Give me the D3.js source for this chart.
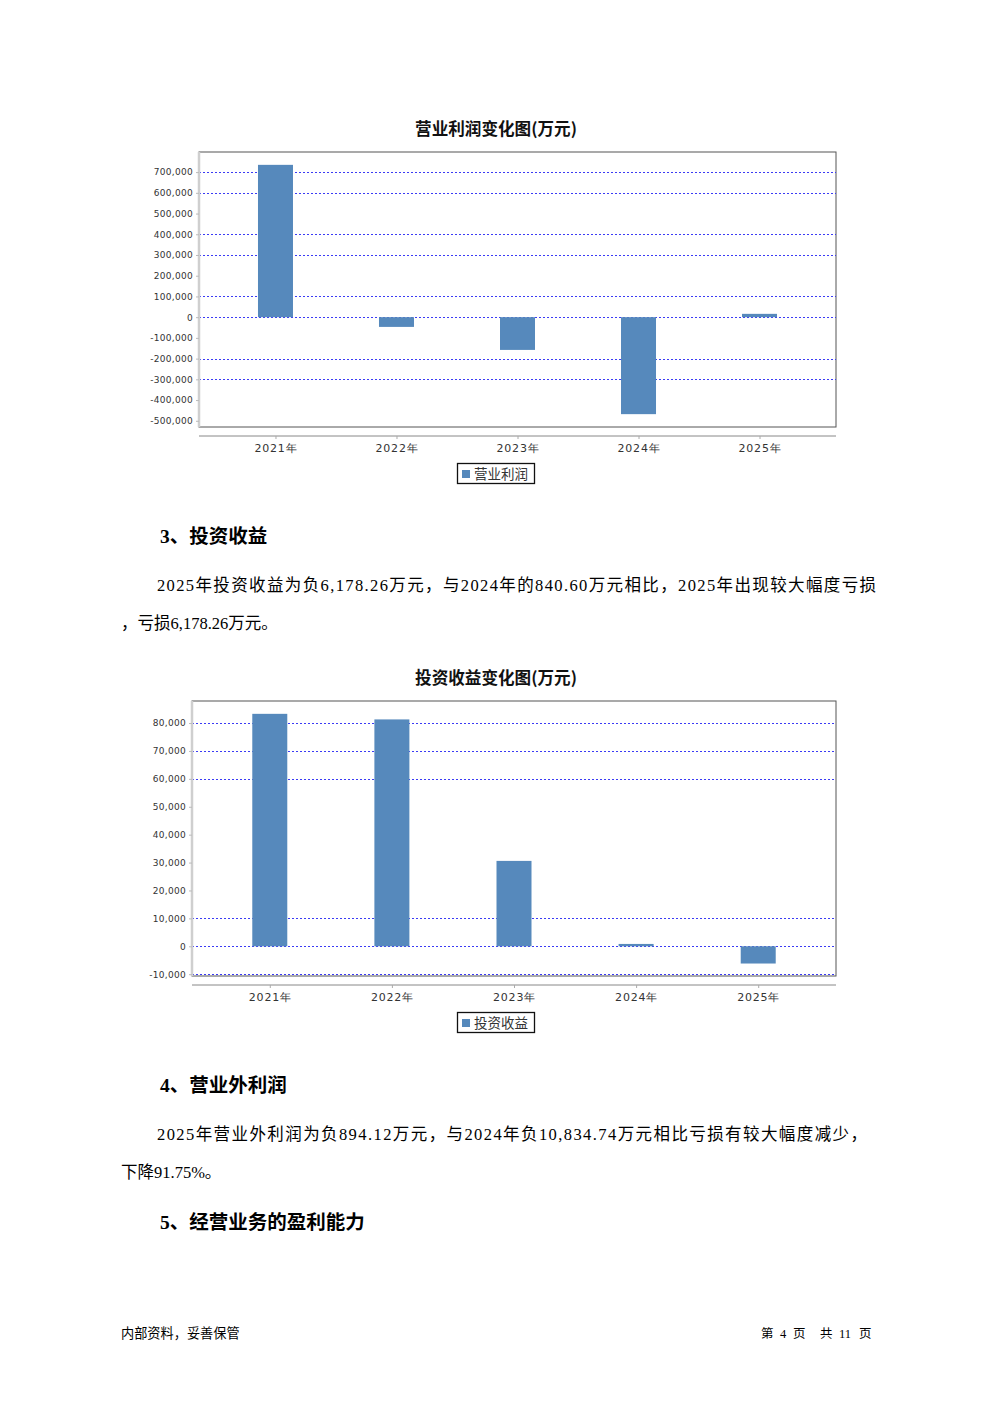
<!DOCTYPE html>
<html><head><meta charset="utf-8">
<script src="https://cdn.jsdelivr.net/npm/d3@7"></script>
<style>
html,body{margin:0;padding:0;background:#fff;}
svg{display:block;}
</style></head>
<body>
<svg id="page" width="992" height="1403"></svg>
<script>
// ---------- data ----------
const years = ["2021年", "2022年", "2023年", "2024年", "2025年"];
const operatingProfit = [735000, -47000, -158000, -468000, 16000];
const investmentIncome = [83300, 81300, 30600, 840.60, -6178.26];
const opTicks = [-500000, -400000, -300000, -200000, -100000, 0, 100000, 200000, 300000, 400000, 500000, 600000, 700000];
const opGrid = [700000, 600000, 400000, 300000, 100000, 0, -200000, -300000];
const invTicks = [-10000, 0, 10000, 20000, 30000, 40000, 50000, 60000, 70000, 80000];
const invGrid = [80000, 70000, 60000, 10000, 0, -10000];
const chartTitles = ["营业利润变化图(万元)", "投资收益变化图(万元)"];
const legendLabels = ["营业利润", "投资收益"];

const svg = d3.select("#page");
svg.append("rect").attr("width", 992).attr("height", 1403).attr("fill", "#fff");

const fmt = d3.formatLocale({decimal: ".", thousands: ",", grouping: [3], currency: ["", ""], minus: "-"}).format(",");
const barColor = "#5689bc";

function drawChart(cfg) {
  const g = svg.append("g");
  const x = d3.scalePoint().domain(years).range([cfg.left, cfg.right]).padding(cfg.pad);
  const y = d3.scaleLinear().domain(cfg.domain).range([cfg.bottom, cfg.top]);

  // title
  g.append("text").attr("x", 496).attr("y", cfg.top - 17)
    .attr("text-anchor", "middle").attr("font-family", "'Noto Sans CJK SC'")
    .attr("font-weight", "bold").attr("font-size", 16.6).attr("fill", "#111").text(cfg.title);

  // plot outline
  g.append("rect").attr("x", cfg.left).attr("y", cfg.top)
    .attr("width", cfg.right - cfg.left).attr("height", cfg.bottom - cfg.top)
    .attr("fill", "#fff").attr("stroke", "#555").attr("stroke-width", 1);

  // gridlines
  g.append("g").selectAll("line").data(cfg.grid).join("line")
    .attr("x1", cfg.left).attr("x2", cfg.right)
    .attr("y1", d => Math.round(y(d)) + 0.5).attr("y2", d => Math.round(y(d)) + 0.5)
    .attr("stroke", "#3b3bf5").attr("stroke-width", 1).attr("stroke-dasharray", "2,2");

  // bars
  const bw = 35;
  g.append("g").selectAll("rect").data(cfg.values).join("rect")
    .attr("x", (d, i) => x(years[i]) - bw / 2)
    .attr("y", d => y(Math.max(0, d)))
    .attr("width", bw)
    .attr("height", d => Math.max(1.5, Math.abs(y(d) - y(0))))
    .attr("fill", barColor);

  // y axis
  const ya = g.append("g").attr("transform", `translate(${cfg.left},0)`)
    .call(d3.axisLeft(y).tickValues(cfg.ticks).tickFormat(fmt).tickSize(3).tickPadding(3));
  ya.select(".domain").attr("stroke", "#cfcfcf").attr("stroke-width", 2.5)
    .attr("d", `M0,${cfg.top}V${cfg.bottom}`);
  ya.selectAll(".tick line").attr("stroke", "#bbb");
  ya.selectAll(".tick text").attr("font-family", "'DejaVu Sans'").attr("font-size", 9)
    .attr("fill", "#333").attr("letter-spacing", 0.3);

  // x axis
  const axisY = cfg.bottom + 9;
  const xa = g.append("g").attr("transform", `translate(0,${axisY})`)
    .call(d3.axisBottom(x).tickSize(3).tickPadding(5));
  xa.select(".domain").attr("stroke", "#888").attr("d", `M${cfg.left},0H${cfg.right}`);
  xa.selectAll(".tick line").attr("stroke", "#aaa");
  xa.selectAll(".tick text").attr("font-family", "'DejaVu Sans'").attr("font-size", 11)
    .attr("fill", "#333").attr("letter-spacing", 0.8);

  // legend
  const ly = axisY + 27;
  g.append("rect").attr("x", 457.5).attr("y", ly + 0.5).attr("width", 77).attr("height", 20)
    .attr("fill", "#fff").attr("stroke", "#111").attr("stroke-width", 1.3);
  g.append("rect").attr("x", 462).attr("y", ly + 7).attr("width", 8).attr("height", 8).attr("fill", barColor);
  g.append("text").attr("x", 474).attr("y", ly + 15.5)
    .attr("font-family", "'Noto Sans CJK SC'").attr("font-size", 13.5).attr("fill", "#333")
    .text(cfg.legend);
}

drawChart({left: 199, right: 836, top: 152, bottom: 427, domain: [-530000, 797000], pad: 0.632,
  values: operatingProfit, ticks: opTicks, grid: opGrid, title: chartTitles[0], legend: legendLabels[0]});
drawChart({left: 192, right: 836, top: 701, bottom: 976, domain: [-10650, 87900], pad: 0.637,
  values: investmentIncome, ticks: invTicks, grid: invGrid, title: chartTitles[1], legend: legendLabels[1]});

// ---------- body text ----------
const bodyFont = "'Liberation Serif', 'Noto Sans CJK SC'";
function heading(t, yy) {
  svg.append("text").attr("x", 160).attr("y", yy).attr("font-family", bodyFont)
    .attr("font-weight", "bold").attr("font-size", 19.5).attr("fill", "#000").text(t);
}
function line(t, xx, yy, len) {
  const s = svg.append("text").attr("x", xx).attr("y", yy).attr("font-family", bodyFont)
    .attr("font-size", 16.5).attr("fill", "#000").text(t);
  if (len) s.attr("textLength", len).attr("lengthAdjust", "spacing");
}
heading("3、投资收益", 543);
line("2025年投资收益为负6,178.26万元，与2024年的840.60万元相比，2025年出现较大幅度亏损", 157, 591, 719);
line("，亏损6,178.26万元。", 121, 629);
heading("4、营业外利润", 1092);
line("2025年营业外利润为负894.12万元，与2024年负10,834.74万元相比亏损有较大幅度减少，", 157, 1140, 710);
line("下降91.75%。", 121, 1178);
heading("5、经营业务的盈利能力", 1229);

// footer
const footFont = "'Liberation Serif','Noto Sans CJK SC'";
svg.append("text").attr("x", 121).attr("y", 1338).attr("font-family", "'Noto Sans CJK SC'")
  .attr("font-size", 13.2).attr("fill", "#000").text("内部资料，妥善保管");
const pageParts = [["第", 761], ["4", 780], ["页", 793], ["共", 820], ["11", 839], ["页", 859]];
svg.append("g").selectAll("text").data(pageParts).join("text")
  .attr("x", d => d[1]).attr("y", 1338).attr("font-family", footFont)
  .attr("font-size", 12.5).attr("fill", "#000").text(d => d[0]);
</script>
</body></html>
